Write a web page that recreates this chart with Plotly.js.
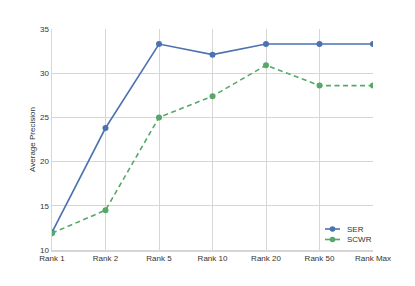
<!DOCTYPE html>
<html><head><meta charset="utf-8">
<script src="https://cdn.plot.ly/plotly-3.0.1.min.js"></script>
<style>html,body{margin:0;padding:0;background:#fff}#chart{width:415px;height:286px}</style>
</head><body><div id="chart"></div>
<script>
const categories = ["Rank 1","Rank 2","Rank 5","Rank 10","Rank 20","Rank 50","Rank Max"];
const serValues = [12.0, 23.8, 33.3, 32.1, 33.3, 33.3, 33.3];
const scwrValues = [11.9, 14.5, 25.0, 27.4, 30.9, 28.6, 28.6];
const yTicks = [10, 15, 20, 25, 30, 35];
const seriesNames = ["SER", "SCWR"];
const seriesColors = ["#4c72b0", "#55a868"];

const traces = [
  {x: categories, y: serValues, name: seriesNames[0], type: "scatter", mode: "lines+markers",
   line: {color: seriesColors[0], width: 1.6}, marker: {color: seriesColors[0], size: 6}},
  {x: categories, y: scwrValues, name: seriesNames[1], type: "scatter", mode: "lines+markers",
   line: {color: seriesColors[1], width: 1.6, dash: "5px,3.5px"}, marker: {color: seriesColors[1], size: 6}}
];

// compact legend drawn in paper coordinates (plot area: x 52..373, y 29..250)
const W = 415, H = 286, L = 52, R = 42, T = 29, B = 36;
const pw = W - L - R, ph = H - T - B;
const px = v => (v - L) / pw;
const py = v => 1 - (v - T) / ph;
const shapes = [], annotations = [];
seriesNames.forEach((n, i) => {
  const yy = 229 + i * 10.5;
  shapes.push({type: "line", xref: "paper", yref: "paper", x0: px(325), x1: px(340), y0: py(yy), y1: py(yy),
               line: {color: seriesColors[i], width: 1.6}});
  shapes.push({type: "circle", xref: "paper", yref: "paper", x0: px(329.7), x1: px(335.3), y0: py(yy - 2.8), y1: py(yy + 2.8),
               fillcolor: seriesColors[i], line: {color: seriesColors[i], width: 0}});
  annotations.push({text: n, xref: "paper", yref: "paper", x: px(345), y: py(yy), xanchor: "left", yanchor: "middle",
                    showarrow: false, font: {size: 8, color: "#333"}});
});

const layout = {
  width: W, height: H,
  margin: {l: L, r: R, t: T, b: B},
  paper_bgcolor: "#fff", plot_bgcolor: "#fff",
  font: {family: "Liberation Sans, Arial, sans-serif", size: 8, color: "#333"},
  showlegend: false,
  shapes: shapes, annotations: annotations,
  xaxis: {type: "category", range: [0, 6], showgrid: true, gridcolor: "#d6d6d6", gridwidth: 1,
          showline: true, linecolor: "#d6d6d6", linewidth: 1.5, ticks: "", zeroline: false,
          tickfont: {size: 8, color: "#333"}},
  yaxis: {range: [10, 35], tickvals: yTicks, showgrid: true, gridcolor: "#d6d6d6", gridwidth: 1,
          showline: true, linecolor: "#d6d6d6", linewidth: 1.5, ticks: "", zeroline: false,
          tickfont: {size: 8, color: "#333"},
          title: {text: "Average Precision", font: {size: 8, color: "#333"}, standoff: 3}}
};
Plotly.newPlot("chart", traces, layout, {displayModeBar: false, staticPlot: true});
</script></body></html>
